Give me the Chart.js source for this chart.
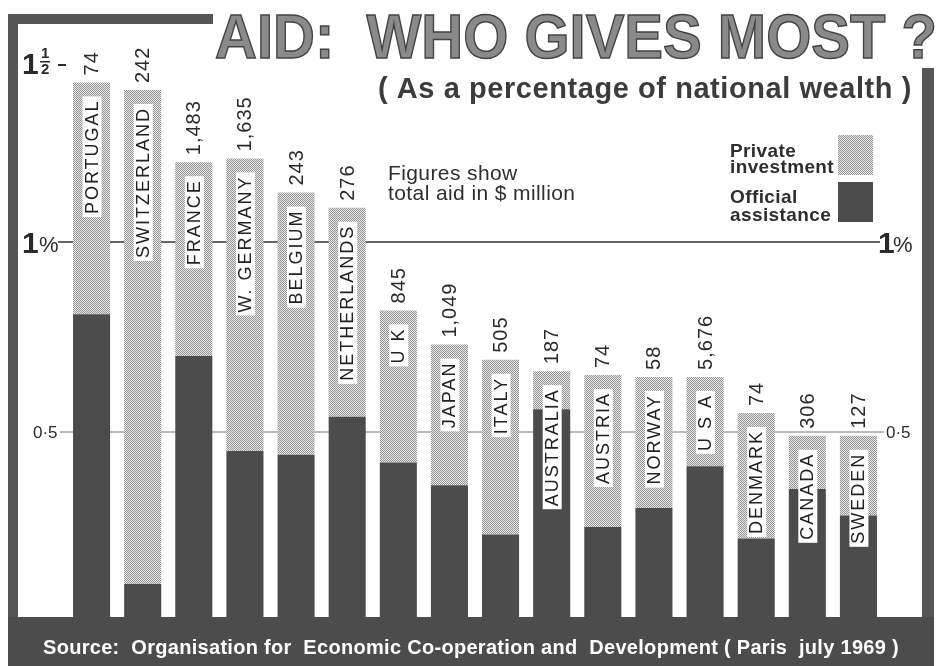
<!DOCTYPE html>
<html>
<head>
<meta charset="utf-8">
<script src="https://cdn.jsdelivr.net/npm/chart.js@4.4.1/dist/chart.umd.min.js"></script>
<style>
  html, body { margin: 0; padding: 0; background: #fff; }
  #wrap { width: 937px; height: 666px; }
</style>
</head>
<body>
<div id="wrap"><canvas id="aidChart" width="937" height="666"></canvas></div>
<script>
// data (% of national wealth)
const countries = ['PORTUGAL', 'SWITZERLAND', 'FRANCE', 'W. GERMANY', 'BELGIUM', 'NETHERLANDS', 'U K', 'JAPAN',
  'ITALY', 'AUSTRALIA', 'AUSTRIA', 'NORWAY', 'U S A', 'DENMARK', 'CANADA', 'SWEDEN']
const officialAid = [0.81, 0.10, 0.70, 0.45, 0.44, 0.54, 0.42, 0.36, 0.23, 0.56, 0.25, 0.30, 0.41, 0.22, 0.35, 0.28]
const privateAid = [0.61, 1.30, 0.51, 0.77, 0.69, 0.55, 0.40, 0.37, 0.46, 0.10, 0.40, 0.345, 0.235, 0.33, 0.14, 0.21]
const totalMillions = ['74', '242', '1,483', '1,635', '243', '276', '845', '1,049', '505', '187', '74', '58', '5,676', '74', '306', '127']
const refLines = [1, 0.5]

const DARK = '#4c4c4c'
const FRAME = '#555'

// little checker tile for the "private investment" screen
const makeDots = () => {
  const c = document.createElement('canvas')
  c.width = 2; c.height = 2
  const g = c.getContext('2d')
  g.fillStyle = '#e8e8e8'; g.fillRect(0, 0, 2, 2)
  g.fillStyle = '#949494'; g.fillRect(0, 0, 1, 1); g.fillRect(1, 1, 1, 1)
  return g.createPattern(c, 'repeat')
}
const dots = makeDots()

const rotText = (ctx, txt, x, y, align) => {
  ctx.save()
  ctx.translate(x, y)
  ctx.rotate(-Math.PI / 2)
  ctx.textAlign = align
  ctx.textBaseline = 'middle'
  ctx.fillText(txt, 0, 0)
  ctx.restore()
}

const decor = {
  id: 'decor',
  beforeDatasetsDraw(chart) {
    const ctx = chart.ctx
    const y = chart.scales.y
    ctx.save()
    // reference lines behind the bars
    ctx.strokeStyle = '#333'
    ctx.lineWidth = 1.5
    ctx.beginPath()
    ctx.moveTo(58, y.getPixelForValue(refLines[0]))
    ctx.lineTo(880, y.getPixelForValue(refLines[0]))
    ctx.stroke()
    ctx.strokeStyle = '#777'
    ctx.lineWidth = 1
    ctx.beginPath()
    ctx.moveTo(60, y.getPixelForValue(refLines[1]))
    ctx.lineTo(884, y.getPixelForValue(refLines[1]))
    ctx.stroke()
    ctx.restore()
  },
  afterDatasetsDraw(chart) {
    const ctx = chart.ctx
    const y = chart.scales.y
    ctx.save()
    // frame + bottom band
    ctx.fillStyle = FRAME
    ctx.fillRect(8, 14, 205, 10)
    ctx.fillRect(8, 14, 10, 652)
    ctx.fillRect(922, 68, 12, 598)
    ctx.fillStyle = DARK
    ctx.fillRect(8, 617, 926, 49)

    // title
    ctx.textBaseline = 'alphabetic'
    ctx.textAlign = 'left'
    ctx.font = 'bold 63px "Liberation Sans", Arial, sans-serif'
    ctx.fillStyle = '#8a8a8a'
    ctx.strokeStyle = '#444'
    ctx.lineWidth = 1.5
    ctx.fillText('AID:  WHO GIVES MOST ?', 215, 58, 722)
    ctx.strokeText('AID:  WHO GIVES MOST ?', 215, 58, 722)
    ctx.fillStyle = '#3c3c3c'
    ctx.font = 'bold 29px "Liberation Sans", Arial, sans-serif'
    ctx.letterSpacing = '0.6px'
    ctx.fillText('( As a percentage of national wealth )', 378, 98, 534)

    // note
    ctx.fillStyle = '#2e2e2e'
    ctx.font = '21px "Liberation Sans", Arial, sans-serif'
    ctx.letterSpacing = '0.4px'
    ctx.fillText('Figures show', 388, 180, 135)
    ctx.fillText('total aid in $ million', 388, 200, 194)

    // legend
    ctx.font = 'bold 19px "Liberation Sans", Arial, sans-serif'
    ctx.letterSpacing = '0.4px'
    ctx.fillText('Private', 730, 157)
    ctx.fillText('investment', 730, 173, 104)
    ctx.fillText('Official', 730, 203)
    ctx.fillText('assistance', 730, 221, 104)
    ctx.letterSpacing = '0px'
    ctx.fillStyle = dots
    ctx.fillRect(838, 135, 35, 40)
    ctx.fillStyle = DARK
    ctx.fillRect(838, 182, 35, 40)

    // axis marks
    ctx.fillStyle = '#2a2a2a'
    ctx.font = 'bold 30px "Liberation Sans", Arial, sans-serif'
    ctx.fillText('1', 22, y.getPixelForValue(1.5) + 22)
    ctx.font = 'bold 15px "Liberation Sans", Arial, sans-serif'
    ctx.fillText('1', 41, y.getPixelForValue(1.5) + 6)
    ctx.fillText('2', 41, y.getPixelForValue(1.5) + 22)
    ctx.fillRect(40, y.getPixelForValue(1.5) + 9, 10, 1.5)
    ctx.fillRect(58, y.getPixelForValue(1.5) + 12, 8, 2)

    const y1 = y.getPixelForValue(refLines[0])
    ctx.font = 'bold 30px "Liberation Sans", Arial, sans-serif'
    ctx.fillText('1', 22, y1 + 11)
    ctx.font = '22px "Liberation Sans", Arial, sans-serif'
    ctx.fillText('%', 39, y1 + 10)
    ctx.font = 'bold 30px "Liberation Sans", Arial, sans-serif'
    ctx.fillText('1', 878, y1 + 11)
    ctx.font = '22px "Liberation Sans", Arial, sans-serif'
    ctx.fillText('%', 893, y1 + 10)

    const y5 = y.getPixelForValue(refLines[1])
    ctx.font = '17px "Liberation Sans", Arial, sans-serif'
    ctx.fillText('0·5', 33, y5 + 6)
    ctx.fillText('0·5', 886, y5 + 6)

    // source line
    ctx.fillStyle = '#fff'
    ctx.font = 'bold 20px "Liberation Sans", Arial, sans-serif'
    ctx.letterSpacing = '0.3px'
    ctx.fillText('Source:  Organisation for  Economic Co-operation and  Development ( Paris  july 1969 )', 43, 654, 860)
    ctx.letterSpacing = '0px'

    // bar labels
    const metaPriv = chart.getDatasetMeta(1)
    metaPriv.data.forEach((bar, i) => {
      const top = bar.y
      const cx = bar.x
      // aid total above the bar
      ctx.fillStyle = '#2a2a2a'
      ctx.font = '20px "Liberation Sans", Arial, sans-serif'
      ctx.letterSpacing = '1px'
      rotText(ctx, totalMillions[i], cx + 1, top - 7, 'left')
      // country name in a white box
      ctx.font = '18px "Liberation Sans", Arial, sans-serif'
      ctx.letterSpacing = '2px'
      const w = ctx.measureText(countries[i]).width
      ctx.fillStyle = '#fff'
      ctx.fillRect(cx - 9, top + 14, 19, w + 6)
      ctx.fillStyle = '#222'
      rotText(ctx, countries[i], cx + 1, top + 17, 'right')
      ctx.letterSpacing = '0px'
    })
    ctx.restore()
  }
}

new Chart('aidChart', {
  type: 'bar',
  data: {
    labels: countries,
    datasets: [
      { label: 'Official assistance', data: officialAid, backgroundColor: DARK, borderWidth: 0 },
      { label: 'Private investment', data: privateAid, backgroundColor: dots, borderWidth: 0 }
    ]
  },
  options: {
    responsive: false,
    animation: false,
    layout: { padding: { left: 66, right: 53, top: 52, bottom: 44 } },
    datasets: { bar: { barPercentage: 0.725, categoryPercentage: 1 } },
    scales: {
      x: { stacked: true, display: false },
      y: { stacked: true, display: false, min: 0, max: 1.5 }
    },
    plugins: {
      legend: { display: false },
      tooltip: { enabled: false },
      title: { display: false }
    }
  },
  plugins: [decor]
})
</script>
</body>
</html>
